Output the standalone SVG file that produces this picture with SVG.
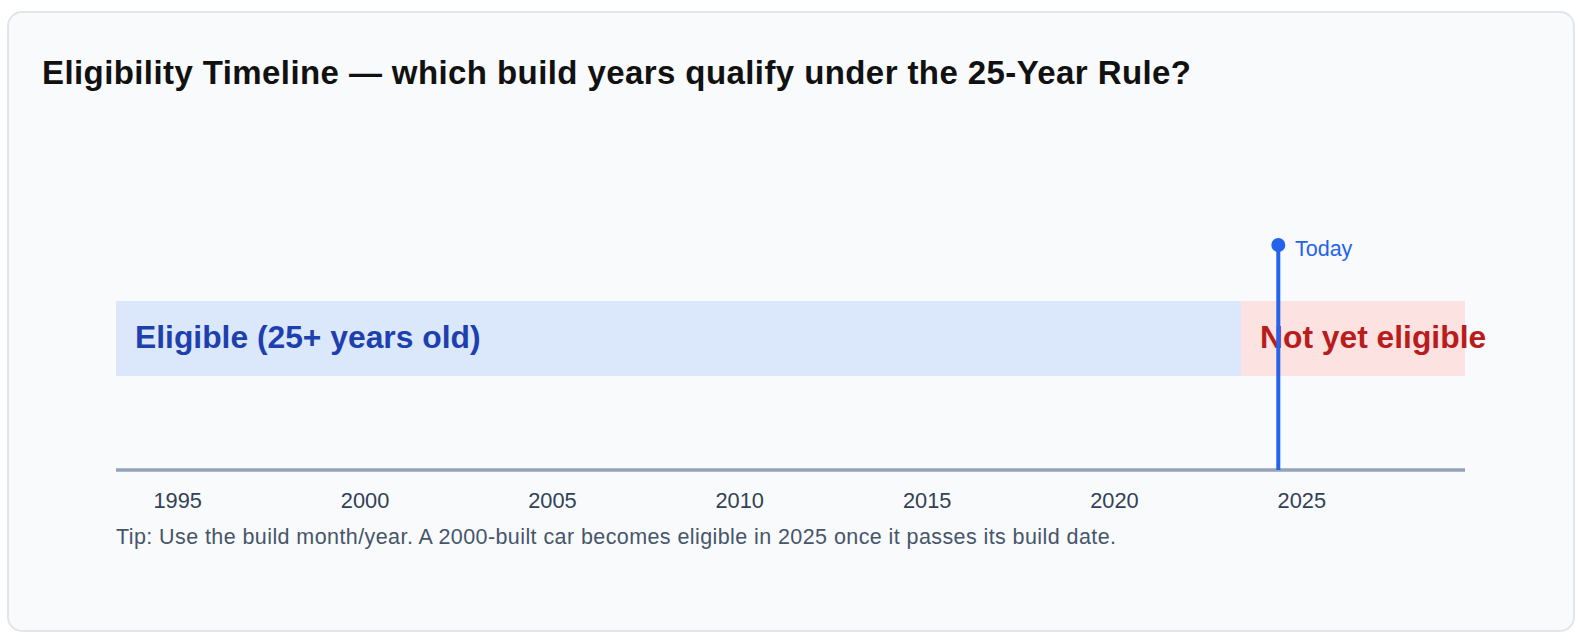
<svg xmlns="http://www.w3.org/2000/svg" width="1582" height="642" viewBox="0 0 1582 642">
<style>
.t{font-family:"Liberation Sans",Arial,sans-serif}
.title{font-size:33px;font-weight:bold;fill:#111111}
.band{font-size:31.8px;font-weight:bold}
.yr{font-size:21.8px;fill:#334155}
.tip{font-size:21.5px;fill:#475569}
</style>
<rect x="0" y="0" width="1582" height="642" fill="#ffffff"/>
<rect id="card" x="8" y="12" width="1566" height="619" rx="14" fill="#f8fafc" stroke="#e2e5ea" stroke-width="2"/>
<text class="t title" x="42" y="83.5" textLength="1149" lengthAdjust="spacing">Eligibility Timeline — which build years qualify under the 25-Year Rule?</text>
<g id="eligible">
<rect x="116" y="301" width="1125" height="75" fill="#dbe8fb"/>
<text class="t band" x="135" y="347.5" fill="#1e40af">Eligible (25+ years old)</text>
</g>
<g id="not-eligible">
<rect x="1241" y="301" width="224" height="75" fill="#fde2e2"/>
<text class="t band" x="1260" y="347.5" fill="#b91c1c">Not yet eligible</text>
</g>
<g id="axis">
<line x1="116" y1="470" x2="1465" y2="470" stroke="#94a3b8" stroke-width="3.5"/>
<text class="t yr" x="153.5" y="507.5">1995</text>
<text class="t yr" x="340.8" y="507.5">2000</text>
<text class="t yr" x="528.2" y="507.5">2005</text>
<text class="t yr" x="715.5" y="507.5">2010</text>
<text class="t yr" x="902.9" y="507.5">2015</text>
<text class="t yr" x="1090.2" y="507.5">2020</text>
<text class="t yr" x="1277.6" y="507.5">2025</text>
</g>
<g id="today">
<line x1="1278.3" y1="245" x2="1278.3" y2="470" stroke="#2563eb" stroke-width="4"/>
<circle cx="1278.3" cy="245" r="7" fill="#2563eb"/>
<text class="t" x="1295" y="256" font-size="21.5" fill="#2563eb">Today</text>
</g>
<text class="t tip" x="116" y="543.5" textLength="1000" lengthAdjust="spacing">Tip: Use the build month/year. A 2000-built car becomes eligible in 2025 once it passes its build date.</text>
</svg>
